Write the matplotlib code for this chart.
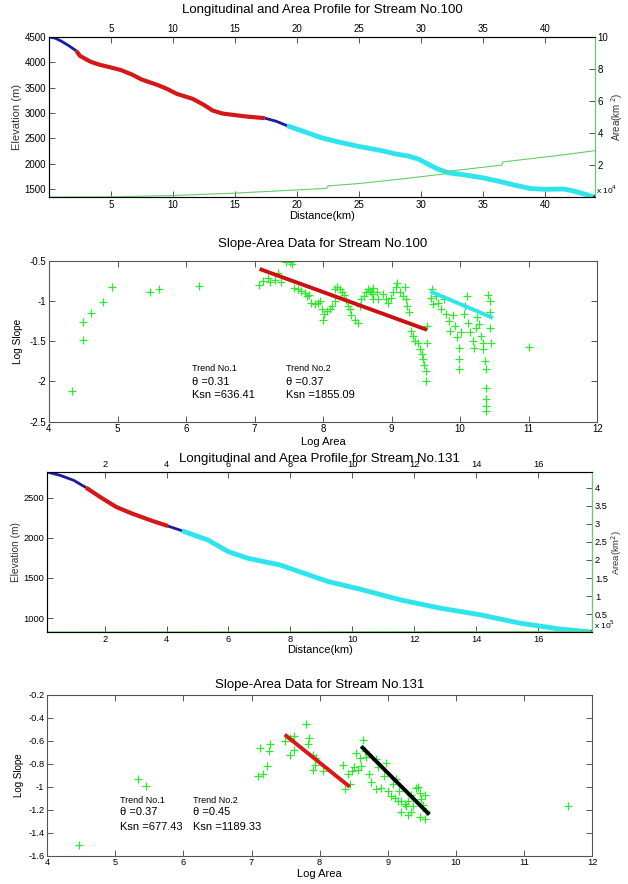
import matplotlib
matplotlib.use("Agg")
import matplotlib.pyplot as plt
from matplotlib.ticker import FixedFormatter

plt.rcParams["font.family"] = ["Liberation Sans", "DejaVu Sans"]
plt.rcParams["axes.unicode_minus"] = False

# ---------------- Stream No.100 : longitudinal profile ----------------
s100_blue1_d = [0.0, 0.5, 1.0, 1.6, 2.2]
s100_blue1_e = [4500, 4480, 4420, 4330, 4230]
s100_red_d = [2.2, 2.5, 3.3, 4.0, 5.0, 5.8, 6.7, 7.5, 8.7, 9.5, 10.3, 11.6, 12.5, 13.2, 14.0, 15.0, 16.0, 17.4]
s100_red_e = [4230, 4130, 4020, 3960, 3900, 3850, 3760, 3660, 3560, 3480, 3380, 3280, 3160, 3050, 2990, 2960, 2930, 2900]
s100_blue2_d = [17.4, 18.3, 19.2]
s100_blue2_e = [2900, 2840, 2750]
s100_cyan_d = [19.2, 20.5, 22.0, 23.5, 25.0, 26.8, 28.0, 29.0, 29.8, 30.5, 31.3, 32.2, 33.5, 35.0, 36.5, 37.5,
               38.8, 40.0, 41.5, 42.3, 43.2, 44.0]
s100_cyan_e = [2750, 2640, 2510, 2420, 2340, 2260, 2190, 2150, 2090, 2000, 1900, 1820, 1780, 1720, 1640, 1580,
               1510, 1495, 1500, 1460, 1400, 1340]
s100_area_d = [0, 5, 10, 15, 20, 22.4, 22.5, 25, 28, 31.9, 32.0, 36.5, 36.6, 41, 44]
s100_area = [0, 0.02, 0.1, 0.25, 0.45, 0.55, 0.7, 0.85, 1.1, 1.45, 1.6, 2.0, 2.2, 2.6, 2.9]

# ---------------- Stream No.100 : slope-area ----------------
s100_logA = [4.33, 4.50, 4.50, 4.62, 4.79, 4.92, 5.48, 5.60, 6.19,
             7.06, 7.12, 7.19, 7.23, 7.30, 7.34, 7.38, 7.46, 7.51, 7.54, 7.58, 7.63, 7.68, 7.73, 7.77, 7.80,
             7.83, 7.88, 7.92, 7.95, 7.99, 8.02, 8.00, 8.06, 8.10, 8.13, 8.17, 8.18, 8.21, 8.24, 8.28, 8.31,
             8.33, 8.37, 8.39, 8.41, 8.46, 8.51, 8.54, 8.56, 8.60, 8.62, 8.66, 8.68, 8.71, 8.73, 8.78, 8.80,
             8.71, 8.73, 8.88, 8.92, 8.95, 8.99, 9.02, 9.06, 9.08, 9.12, 9.17, 9.20, 9.21, 9.23, 9.26, 9.28,
             9.31, 9.34, 9.39, 9.41, 9.44, 9.46, 9.47, 9.50, 9.50, 9.52, 9.51, 9.59, 9.57, 9.61, 9.65, 9.68,
             9.72, 9.77, 9.80, 9.83, 9.85, 9.89, 9.93, 9.95, 9.98, 9.98, 9.98, 10.01, 10.05, 10.07, 10.10,
             10.12, 10.15, 10.19, 10.20, 10.23, 10.25, 10.28, 10.30, 10.33, 10.34, 10.36, 10.37, 10.37,
             10.37, 10.38, 10.38, 10.41, 10.43, 10.44, 10.43, 10.45, 11.0]
s100_logS = [-2.12, -1.26, -1.49, -1.15, -1.01, -0.82, -0.89, -0.85, -0.81,
             -0.80, -0.75, -0.72, -0.76, -0.74, -0.65, -0.77, -0.52, -0.52, -0.54, -0.84, -0.85, -0.87, -0.90,
             -0.94, -0.93, -1.02, -1.04, -1.02, -1.00, -1.10, -1.16, -1.23, -1.12, -1.10, -1.06, -1.00, -0.85,
             -0.82, -0.85, -0.89, -0.93, -0.99, -1.06, -1.10, -1.18, -1.23, -1.27, -1.06, -0.98, -0.94, -0.89,
             -0.85, -0.87, -0.91, -0.84, -0.89, -0.98,
             -0.89, -0.98, -0.91, -0.98, -1.02, -0.96, -0.89, -0.83, -0.78, -0.89, -0.94, -0.83, -0.98, -1.06,
             -1.14, -1.37, -1.43, -1.50, -1.52, -1.60, -1.66, -1.72, -1.79, -1.87, -2.00, -1.31, -1.52, -0.85,
             -0.96, -1.04, -0.94, -1.02, -1.10, -0.98, -1.16, -1.25, -1.37, -1.18, -1.31, -1.45, -1.58, -1.72,
             -1.84, -1.39, -1.16, -1.06, -0.94, -1.27, -1.39, -1.50, -1.58, -1.33, -1.20, -1.29, -1.43, -1.52,
             -1.60, -1.74, -1.85, -2.08, -2.22, -2.30, -2.37, -0.93, -1.00, -1.14, -1.33, -1.52, -1.57]
s100_fit1_A = [7.10, 9.49]
s100_fit1_S = [-0.61, -1.35]
s100_fit2_A = [9.59, 10.45]
s100_fit2_S = [-0.89, -1.20]

# ---------------- Stream No.131 : longitudinal profile ----------------
s131_blue1_d = [0.14, 0.56, 1.0, 1.4]
s131_blue1_e = [2818, 2777, 2715, 2624]
s131_red_d = [1.4, 1.85, 2.37, 2.88, 3.53, 4.05]
s131_red_e = [2624, 2508, 2384, 2302, 2211, 2145]
s131_blue2_d = [4.05, 4.5]
s131_blue2_e = [2145, 2087]
s131_cyan_d = [4.5, 5.34, 6.0, 6.63, 7.67, 8.44, 9.22, 10.25, 11.55, 12.84, 14.13, 15.4, 16.7, 17.75]
s131_cyan_e = [2087, 1971, 1826, 1744, 1661, 1558, 1455, 1360, 1227, 1124, 1041, 938, 864, 826]
s131_area_d = [0.14, 4, 8, 11, 15, 17.75]
s131_area = [0.001, 0.003, 0.005, 0.01, 0.015, 0.02]

# ---------------- Stream No.131 : slope-area ----------------
s131_logA = [4.47, 5.33, 5.45,
             7.12, 7.27, 7.25, 7.22, 7.09, 7.17, 7.49, 7.56, 7.63, 7.80, 7.85, 7.83, 7.56, 7.62, 7.90, 7.95,
             7.93, 7.90, 8.05, 8.34, 8.37, 8.44, 8.42, 8.47, 8.51, 8.56, 8.61, 8.63, 8.66, 8.54, 8.59, 8.68,
             8.73, 8.76, 8.83, 8.85, 8.83, 8.90, 8.95, 8.97, 9.00, 9.05, 9.07, 9.12, 9.17, 9.20, 9.25, 9.29,
             9.34, 9.37, 9.42, 9.44, 9.47, 9.49, 9.51, 9.54, 9.56, 9.54, 9.47, 9.34, 9.29, 9.20, 9.15, 9.10,
             9.27, 11.65]
s131_logS = [-1.51, -0.93, -0.99,
             -0.66, -0.63, -0.69, -0.82, -0.91, -0.89, -0.60, -0.58, -0.56, -0.45, -0.58, -0.63, -0.72, -0.68,
             -0.72, -0.75, -0.81, -0.85, -0.86, -0.81, -1.02, -0.98, -0.89, -0.86, -0.83, -0.85, -0.82, -0.59,
             -0.69, -0.71, -0.75, -0.74, -0.89, -0.96, -0.76, -0.83, -1.02, -1.01, -0.91, -0.79, -1.04, -1.08,
             -0.98, -0.93, -1.04, -1.12, -1.15, -1.12, -1.07, -1.17, -1.01, -1.00, -1.05, -1.11, -1.16, -1.07,
             -1.21, -1.28, -1.26, -1.22, -1.25, -1.22, -1.12, -1.10, -1.17, -1.17]
s131_fit1_A = [7.51, 8.42]
s131_fit1_S = [-0.557, -0.99]
s131_fit2_A = [8.63, 9.59]
s131_fit2_S = [-0.66, -1.23]

BLUE = "#1a1aa0"
RED = "#d41818"
CYAN = "#30e4ee"
AREA = "#66cc66"
PTS = "#2ee82e"
SPINE = "#555555"


def box(ax, fs):
    for s in ax.spines.values():
        s.set_color(SPINE)
        s.set_linewidth(0.8)
    ax.tick_params(direction="in", length=4, width=0.7, labelsize=fs, top=True, right=True,
                   color=SPINE, pad=2)


def profile(ax, segs, xlim, ylim, yticks, xticks, area_d, area, a_ticks, a_lim, mult, fs, lab_fs):
    box(ax, fs)
    for d, e, c, lw in segs:
        ax.plot(d, e, color=c, lw=lw, solid_capstyle="butt")
    ax.plot(segs[-1][0][-1], segs[-1][1][-1], "o", color="#10106a", ms=2.5)
    ax.set_xlim(*xlim)
    ax.set_ylim(*ylim)
    ax.set_yticks(yticks)
    ax.set_xticks(xticks)
    ax.tick_params(right=False, labeltop=True)
    ax.set_ylabel("Elevation (m)", fontsize=lab_fs, labelpad=2, color="#333333")
    ax.set_xlabel("Distance(km)", fontsize=8, labelpad=1)
    ax2 = ax.twinx()
    ax2.plot(area_d, area, color=AREA, lw=0.8)
    ax2.set_ylim(*a_lim)
    ax2.set_yticks(a_ticks)
    ax2.yaxis.set_major_formatter(FixedFormatter(["%g" % t for t in a_ticks]))
    ax2.tick_params(direction="in", length=4, width=0.7, labelsize=fs, color=SPINE, pad=2)
    ax2.spines["right"].set_color(AREA)
    ax2.text(1.003, 0.045, mult, transform=ax2.transAxes, fontsize=6, va="center", ha="left")
    return ax2


fig = plt.figure(figsize=(6.28, 8.84), dpi=100)

# ---- panel 1
ax1 = fig.add_axes([0.078, 0.777, 0.869, 0.181])
a1 = profile(ax1,
             [(s100_blue1_d, s100_blue1_e, BLUE, 2.0), (s100_red_d, s100_red_e, RED, 3.0),
              (s100_blue2_d, s100_blue2_e, BLUE, 2.0), (s100_cyan_d, s100_cyan_e, CYAN, 3.5)],
             (0, 44), (1340, 4500), [1500, 2000, 2500, 3000, 3500, 4000, 4500], [5, 10, 15, 20, 25, 30, 35, 40],
             s100_area_d, s100_area, [2, 4, 6, 8, 10], (0, 10), "x 10$^4$", 7, 8)
a1.set_ylabel("Area(km$^{\\ 2}$)", fontsize=7, labelpad=1, color="#333333")
fig.text(0.513, 0.989, "Longitudinal and Area Profile for Stream No.100", ha="center", va="center", fontsize=9.5)

# ---- panel 2
ax2 = fig.add_axes([0.078, 0.523, 0.873, 0.182])
box(ax2, 7)
ax2.plot(s100_logA, s100_logS, "+", color=PTS, ms=6, mew=0.9)
ax2.plot(s100_fit1_A, s100_fit1_S, color="#cc1010", lw=2.8)
ax2.plot(s100_fit2_A, s100_fit2_S, color=CYAN, lw=2.8)
ax2.set_xlim(4, 12)
ax2.set_ylim(-2.5, -0.5)
ax2.set_yticks([-2.5, -2, -1.5, -1, -0.5])
ax2.yaxis.set_major_formatter(FixedFormatter(["-2.5", "-2", "-1.5", "-1", "-0.5"]))
ax2.set_ylabel("Log Slope", fontsize=7.3, labelpad=5)
ax2.set_xlabel("Log Area", fontsize=8, labelpad=2)
ax2.set_title("Slope-Area Data for Stream No.100", fontsize=9.5, pad=10)
ax2.text(6.09, -1.87, "Trend No.1", fontsize=6.5)
ax2.text(6.09, -2.04, "\u03b8 =0.31", fontsize=8)
ax2.text(6.09, -2.20, "Ksn =636.41", fontsize=8)
ax2.text(7.46, -1.87, "Trend No.2", fontsize=6.5)
ax2.text(7.46, -2.04, "\u03b8 =0.37", fontsize=8)
ax2.text(7.46, -2.20, "Ksn =1855.09", fontsize=8)

# ---- panel 3
ax3 = fig.add_axes([0.075, 0.285, 0.868, 0.181])
a3 = profile(ax3,
             [(s131_blue1_d, s131_blue1_e, BLUE, 2.0), (s131_red_d, s131_red_e, RED, 3.0),
              (s131_blue2_d, s131_blue2_e, BLUE, 2.0), (s131_cyan_d, s131_cyan_e, CYAN, 3.5)],
             (0.14, 17.75), (826, 2818), [1000, 1500, 2000, 2500], [2, 4, 6, 8, 10, 12, 14, 16],
             s131_area_d, s131_area, [0.5, 1, 1.5, 2, 2.5, 3, 3.5, 4], (0, 4.44), "x 10$^5$", 6.7, 7.3)
a3.set_ylabel("Area(km$^2$)", fontsize=6.8, labelpad=1, color="#333333")
fig.text(0.509, 0.481, "Longitudinal and Area Profile for Stream No.131", ha="center", va="center", fontsize=9.5)

# ---- panel 4
ax4 = fig.add_axes([0.075, 0.032, 0.868, 0.182])
box(ax4, 6.7)
ax4.plot(s131_logA, s131_logS, "+", color=PTS, ms=6, mew=0.9)
ax4.plot(s131_fit1_A, s131_fit1_S, color="#dd1515", lw=2.8)
ax4.plot(s131_fit2_A, s131_fit2_S, color="black", lw=2.8)
ax4.set_xlim(4, 12)
ax4.set_ylim(-1.6, -0.2)
yt4 = [-1.6, -1.4, -1.2, -1, -0.8, -0.6, -0.4, -0.2]
ax4.set_yticks(yt4)
ax4.yaxis.set_major_formatter(FixedFormatter(["%g" % v for v in yt4]))
ax4.set_ylabel("Log Slope", fontsize=7, labelpad=3)
ax4.set_xlabel("Log Area", fontsize=8, labelpad=1)
ax4.set_title("Slope-Area Data for Stream No.131", fontsize=9.5, pad=5)
ax4.text(5.07, -1.14, "Trend No.1", fontsize=6.5)
ax4.text(5.07, -1.25, "\u03b8 =0.37", fontsize=8)
ax4.text(5.07, -1.38, "Ksn =677.43", fontsize=8)
ax4.text(6.14, -1.14, "Trend No.2", fontsize=6.5)
ax4.text(6.14, -1.25, "\u03b8 =0.45", fontsize=8)
ax4.text(6.14, -1.38, "Ksn =1189.33", fontsize=8)

fig.savefig("out.png", dpi=100)
